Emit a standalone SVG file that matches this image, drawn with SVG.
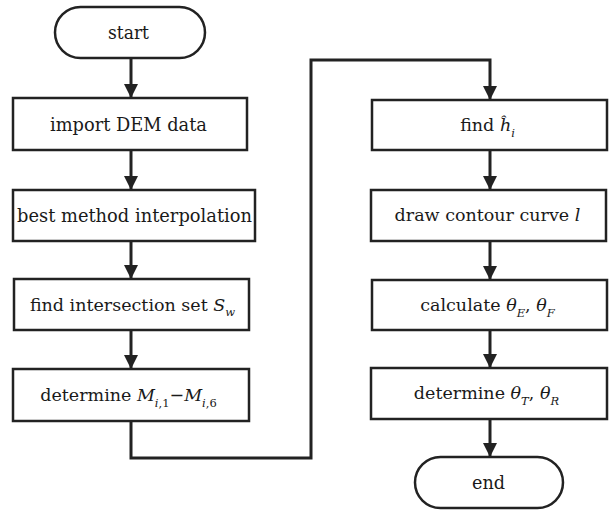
<svg xmlns="http://www.w3.org/2000/svg" width="614" height="510" viewBox="0 0 614 510">
  <defs>
    <style>
      .box{fill:#fff;stroke:#222;stroke-width:2.5}
      .t{font-family:"DejaVu Serif","Liberation Serif",serif;font-size:19px;fill:#1a1a1a;text-anchor:middle}
      .mt{font-size:17.5px}
      .i{font-style:italic}
      .s{font-size:11.5px}
      .edge{fill:none;stroke:#222;stroke-width:3}
    </style>
    <marker id="arrow" viewBox="0 0 14 14" markerWidth="14" markerHeight="14" refX="13" refY="7" orient="auto" markerUnits="userSpaceOnUse">
      <path d="M0,0 L14,7 L0,14 z" fill="#222"/>
    </marker>
  </defs>
  <rect width="614" height="510" fill="#fff"/>

  <g id="connectors">
    <path class="edge" d="M131,58 V97" marker-end="url(#arrow)"/>
    <path class="edge" d="M131,150 V189" marker-end="url(#arrow)"/>
    <path class="edge" d="M131,241 V278" marker-end="url(#arrow)"/>
    <path class="edge" d="M131,330 V368" marker-end="url(#arrow)"/>
    <path class="edge" d="M131,421 V458 H311 V60 H490 V99" marker-end="url(#arrow)"/>
    <path class="edge" d="M490,150 V189" marker-end="url(#arrow)"/>
    <path class="edge" d="M490,241 V279" marker-end="url(#arrow)"/>
    <path class="edge" d="M490,330 V367" marker-end="url(#arrow)"/>
    <path class="edge" d="M490,419 V456" marker-end="url(#arrow)"/>
  </g>

  <g id="start">
    <rect class="box" x="55" y="7" width="150" height="51" rx="25.5"/>
    <text class="t" x="128.5" y="39" textLength="41" lengthAdjust="spacingAndGlyphs">start</text>
  </g>
  <g id="import">
    <rect class="box" x="13" y="98" width="234" height="52"/>
    <text class="t" x="128.5" y="131" textLength="157" lengthAdjust="spacingAndGlyphs">import DEM data</text>
  </g>
  <g id="interp">
    <rect class="box" x="13" y="190" width="242" height="51"/>
    <text class="t" x="134.5" y="222" textLength="235" lengthAdjust="spacingAndGlyphs">best method interpolation</text>
  </g>
  <g id="intersect">
    <rect class="box" x="14" y="279" width="235" height="51"/>
    <text class="t mt" x="132.5" y="311">find intersection set <tspan class="i">S</tspan><tspan class="i s" dy="5">w</tspan></text>
  </g>
  <g id="determineM">
    <rect class="box" x="13" y="369" width="236" height="52"/>
    <text class="t mt" x="128.5" y="401">determine <tspan class="i">M</tspan><tspan class="s" dy="6"><tspan class="i">i</tspan>,1</tspan><tspan dy="-6">−</tspan><tspan class="i">M</tspan><tspan class="s" dy="6"><tspan class="i">i</tspan>,6</tspan></text>
  </g>
  <g id="findh">
    <rect class="box" x="372" y="100" width="235" height="50"/>
    <text class="t mt" x="487.5" y="131">find <tspan class="i">ĥ</tspan><tspan class="i s" dy="6">i</tspan></text>
  </g>
  <g id="contour">
    <rect class="box" x="371" y="190" width="235" height="51"/>
    <text class="t mt" x="487.5" y="221">draw contour curve <tspan class="i">l</tspan></text>
  </g>
  <g id="calculate">
    <rect class="box" x="372" y="280" width="235" height="50"/>
    <text class="t mt" x="487.5" y="311">calculate <tspan class="i">θ</tspan><tspan class="i s" dy="6">E</tspan><tspan dy="-6">, </tspan><tspan class="i">θ</tspan><tspan class="i s" dy="6">F</tspan></text>
  </g>
  <g id="determineTheta">
    <rect class="box" x="371" y="368" width="236" height="51"/>
    <text class="t mt" x="486.5" y="399">determine <tspan class="i">θ</tspan><tspan class="i s" dy="6">T</tspan><tspan dy="-6">, </tspan><tspan class="i">θ</tspan><tspan class="i s" dy="6">R</tspan></text>
  </g>
  <g id="end">
    <rect class="box" x="415" y="457" width="148" height="51" rx="25.5"/>
    <text class="t" x="488.5" y="489" textLength="33" lengthAdjust="spacingAndGlyphs">end</text>
  </g>
</svg>
